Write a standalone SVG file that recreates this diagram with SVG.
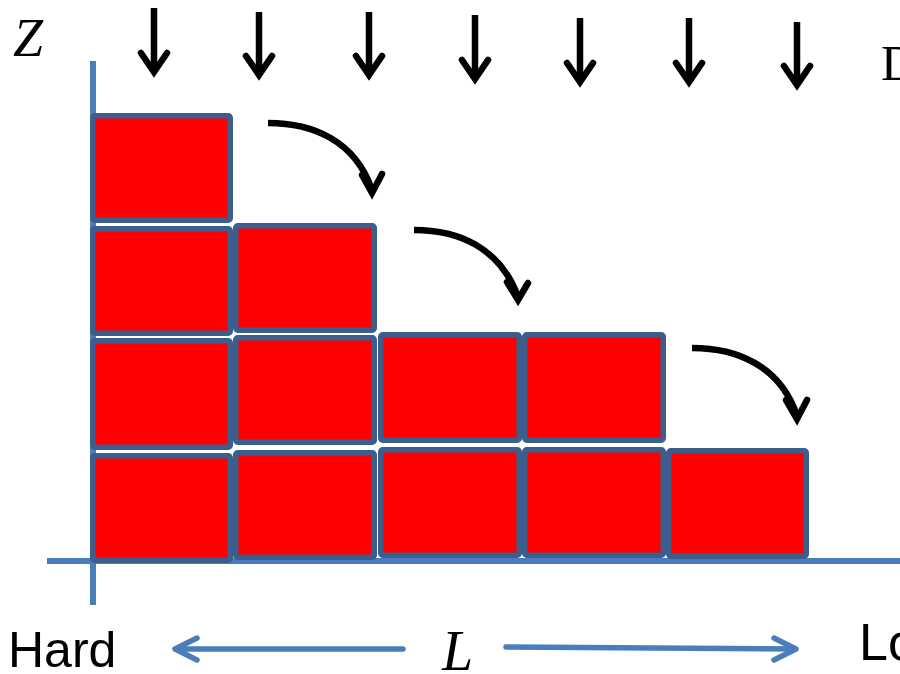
<svg xmlns="http://www.w3.org/2000/svg" width="900" height="674" viewBox="0 0 900 674">
<style>
.box{fill:#FF0000;stroke:#3B5E8C;stroke-width:5.5}
.axis{stroke:#4A7EBB;stroke-width:6;fill:none}
.barrow{stroke:#4A7EBB;stroke-width:5.5;fill:none;stroke-linecap:round;stroke-linejoin:round}
.karrow{stroke:#000;stroke-width:6.5;fill:none}
.khead{stroke:#000;stroke-width:6.5;fill:none;stroke-linecap:round;stroke-linejoin:miter}
.math{font-family:"Liberation Serif","DejaVu Serif",serif;font-style:italic;fill:#000}
.serif{font-family:"Liberation Serif","DejaVu Serif",serif;fill:#000}
.sans{font-family:"Liberation Sans","Noto Sans",sans-serif;fill:#000}
</style>
<g id="axes">
<line class="axis" x1="93" y1="61" x2="93" y2="605"/>
<line class="axis" x1="47" y1="561" x2="900" y2="561"/>
</g>
<g id="blocks">
<g id="c1r1"><rect class="box" x="92.75" y="115.75" width="137.5" height="104.5" rx="2"/></g>
<g id="c1r2"><rect class="box" x="92.75" y="228.75" width="137.5" height="104.5" rx="2"/></g>
<g id="c1r3"><rect class="box" x="92.75" y="340.75" width="137.5" height="106.5" rx="2"/></g>
<g id="c1r4"><rect class="box" x="92.75" y="455.75" width="137.5" height="104.5" rx="2"/></g>
<g id="c2r2"><rect class="box" x="235.75" y="225.75" width="138.5" height="104.5" rx="2"/></g>
<g id="c2r3"><rect class="box" x="235.75" y="337.75" width="138.5" height="104.5" rx="2"/></g>
<g id="c2r4"><rect class="box" x="235.75" y="452.75" width="138.5" height="104.5" rx="2"/></g>
<g id="c3r3"><rect class="box" x="380.75" y="334.75" width="138.5" height="105.5" rx="2"/></g>
<g id="c3r4"><rect class="box" x="380.75" y="449.75" width="138.5" height="105.5" rx="2"/></g>
<g id="c4r3"><rect class="box" x="524.75" y="334.75" width="138.5" height="105.5" rx="2"/></g>
<g id="c4r4"><rect class="box" x="524.75" y="449.75" width="138.5" height="105.5" rx="2"/></g>
<g id="c5r4"><rect class="box" x="668.75" y="450.75" width="137.5" height="105.5" rx="2"/></g>
</g>
<g id="connectors">
<g id="down-arrows">
<line class="karrow" x1="154" y1="8" x2="154" y2="70"/><polyline class="khead" points="141,53 154,72 167,53"/>
<line class="karrow" x1="259" y1="12" x2="259" y2="73"/><polyline class="khead" points="246,56 259,75 272,56"/>
<line class="karrow" x1="369" y1="12" x2="369" y2="73"/><polyline class="khead" points="356,56 369,75 382,56"/>
<line class="karrow" x1="475" y1="15" x2="475" y2="77"/><polyline class="khead" points="462,60 475,79 488,60"/>
<line class="karrow" x1="580" y1="18" x2="580" y2="80"/><polyline class="khead" points="567,63 580,82 593,63"/>
<line class="karrow" x1="689" y1="18" x2="689" y2="80"/><polyline class="khead" points="676,63 689,82 702,63"/>
<line class="karrow" x1="797" y1="22" x2="797" y2="83"/><polyline class="khead" points="784,66 797,85 810,66"/>
</g>
<g id="curved-arrows">
<path class="karrow" d="M268,123 C312,123 355,140 372,190"/><polyline class="khead" points="362,175 372,193 382,174"/>
<path class="karrow" d="M414,230 C458,230 500,247 518,297"/><polyline class="khead" points="507,282 518,300 528,283"/>
<path class="karrow" d="M692,348 C736,348 780,365 797,416"/><polyline class="khead" points="786,400 797,419 807,400"/>
</g>
<g id="L-arrows">
<line class="barrow" x1="403" y1="649" x2="176" y2="649"/><polyline class="barrow" points="197,638 175,649 197,660"/>
<line class="barrow" x1="506" y1="647" x2="794" y2="649"/><polyline class="barrow" points="774,638 796,649 774,660"/>
</g>
</g>
<g id="labels">
<text class="math" x="13" y="56" font-size="54">Z</text>
<text class="serif" x="881" y="80" font-size="50">D</text>
<text class="sans" x="8" y="667" font-size="50">Hard</text>
<text class="math" x="442" y="670" font-size="56">L</text>
<text class="sans" x="859" y="660" font-size="52">Lo</text>
</g>
</svg>
